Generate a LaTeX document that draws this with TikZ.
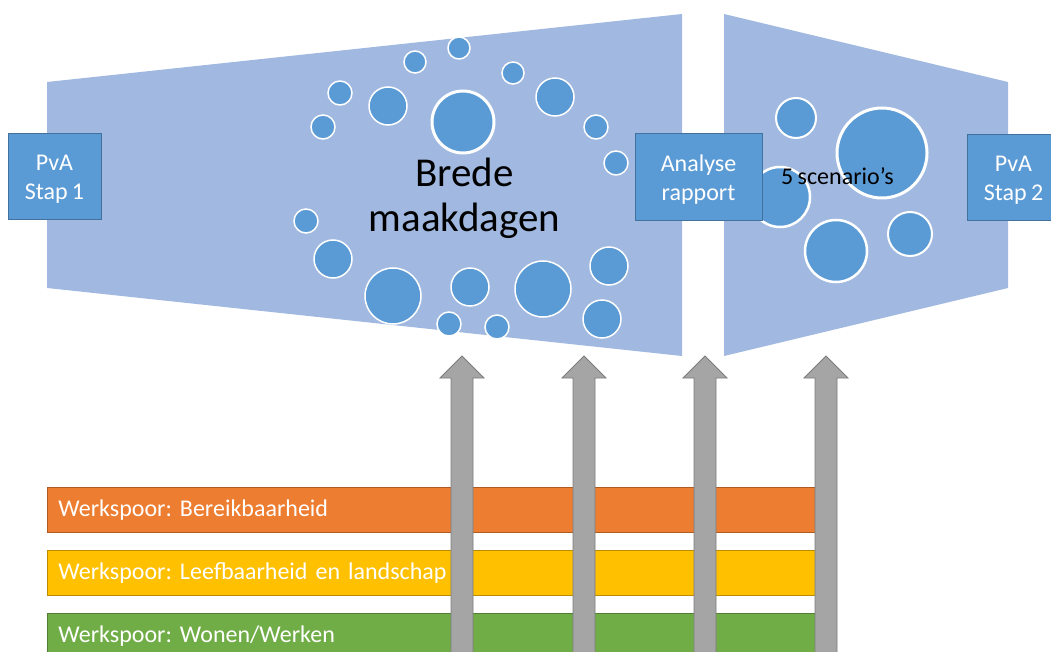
\documentclass[tikz,border=0pt]{standalone}
\usepackage{fontspec}
\setmainfont{Carlito}[WordSpace=0.8]
\usetikzlibrary{calc}
\definecolor{trapfill}{RGB}{161,185,224}
\definecolor{boxfill}{RGB}{91,155,213}
\definecolor{boxline}{RGB}{65,113,156}
\definecolor{bubfill}{RGB}{91,155,213}
\definecolor{arrfill}{RGB}{165,165,165}
\definecolor{arrline}{RGB}{125,125,125}
\definecolor{orfill}{RGB}{237,125,49}
\definecolor{orline}{RGB}{174,90,33}
\definecolor{yefill}{RGB}{255,192,0}
\definecolor{yeline}{RGB}{188,140,0}
\definecolor{grfill}{RGB}{112,173,71}
\definecolor{grline}{RGB}{80,126,50}
\newcommand{\garrow}[2]{%
  \draw[arrowstyle] ($(#1)+(-11,0)$) -- ($(#2)+(-11,22)$) -- ($(#2)+(-22,22)$) -- (#2)
    -- ($(#2)+(22,22)$) -- ($(#2)+(11,22)$) -- ($(#1)+(11,0)$) -- cycle;}
\newcommand{\tstrut}{\rule{0pt}{22pt}}
\begin{document}
\frenchspacing
\begin{tikzpicture}[x=1pt,y=-1pt,
  trapstyle/.style={fill=trapfill},
  bub/.style={circle, fill=bubfill, draw=white, line width=1.5pt, inner sep=0pt},
  stepbox/.style={rectangle, fill=boxfill, draw=boxline, line width=0.8pt, text=white,
     align=center, font=\fontsize{24}{29}\selectfont, inner sep=0pt},
  bar/.style={rectangle, line width=0.8pt, text=white, anchor=north west,
     minimum width=770pt, minimum height=45pt, text width=748pt, inner xsep=11pt, inner ysep=0pt,
     align=left, font=\fontsize{24}{28}\selectfont},
  arrowstyle/.style={fill=arrfill, draw=arrline, line width=0.8pt}]
\useasboundingbox (0,0) rectangle (1051,652);
\clip (0,0) rectangle (1051,652);
% funnels
\fill[trapstyle] (47,82) -- (682,14) -- (682,356) -- (47,288) -- cycle;
\fill[trapstyle] (724,14) -- (1008,82) -- (1008,288) -- (724,356) -- cycle;
% bubbles left
\foreach \x/\y/\r [count=\i] in {459/48/11, 415/62/11, 513/73/11, 340/93/12, 388/106/19,
   555/97/19, 323/127/12, 596/127/12, 616/163/12, 306/221/12, 333/259/19, 470/287/19,
   609/266/19, 449/324/12, 497/327/12, 602/319/19}
  \node[bub, minimum size=\r*2pt] (l\i) at (\x,\y) {};
\node[bub, minimum size=62pt, line width=3pt] (lbig) at (463,122) {};
\node[bub, minimum size=56pt] (lb1) at (393,296) {};
\node[bub, minimum size=56pt] (lb2) at (543,289) {};
% bubbles right
\node[bub, minimum size=40pt, line width=2pt] (r1) at (796,118) {};
\node[bub, minimum size=90pt, line width=3pt] (r2) at (882,153) {};
\node[bub, minimum size=60pt, line width=2.5pt] (r3) at (780,197) {};
\node[bub, minimum size=62pt, line width=2.5pt] (r4) at (836,251) {};
\node[bub, minimum size=44pt, line width=2pt] (r5) at (910,234) {};
% texts
\node[align=center, font=\fontsize{41}{45}\selectfont, inner sep=0pt] (brede) at (464.5,198) {Brede\\maakdagen};
\node[anchor=base west, font=\fontsize{24}{28}\selectfont, inner sep=0pt] (scen) at (781,185) {5 scenario’s};
% boxes
\node[stepbox, minimum width=93pt, minimum height=86pt] (pva1) at (54.5,176) {\tstrut PvA\\Stap 1};
\node[stepbox, minimum width=127pt, minimum height=87pt] (ana) at (698.5,176.5) {\tstrut Analyse\\rapport};
\node[stepbox, minimum width=93pt, minimum height=86pt] (pva2) at (1013.5,177) {\tstrut PvA\\Stap 2};
% work tracks
\node[bar, fill=orfill, draw=orline] (w1) at (47,487) {\mbox{Werkspoor: Bereikbaarheid}};
\node[bar, fill=yefill, draw=yeline] (w2) at (47,550) {\mbox{Werkspoor: Leefbaarheid en landschap}};
\node[bar, fill=grfill, draw=grline] (w3) at (47,613) {\mbox{Werkspoor: Wonen/Werken}};
% arrows
\foreach \x [count=\i] in {462,584,705,826} {
  \coordinate (ab\i) at (\x,665);
  \coordinate (at\i) at (\x,356);
  \garrow{ab\i}{at\i}
}
\end{tikzpicture}
\end{document}
